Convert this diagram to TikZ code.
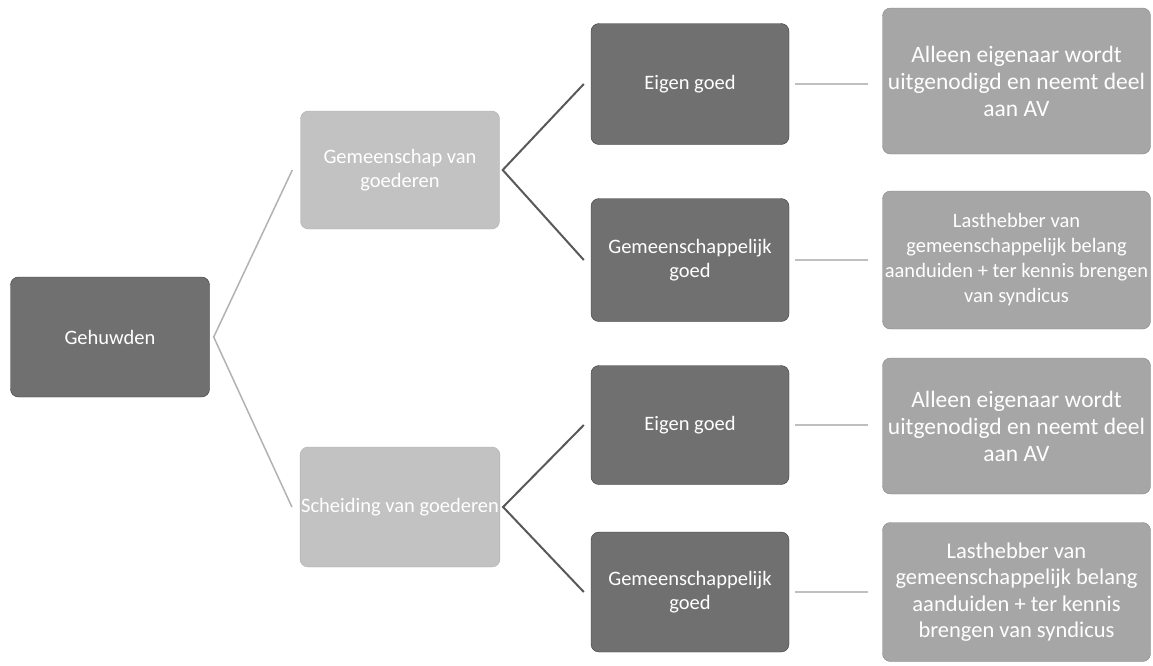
\documentclass[tikz,border=0pt]{standalone}
\usepackage{fontspec}
\setsansfont{Carlito}

\begin{document}
\begin{tikzpicture}[
    x=1pt, y=-1pt,
    every node/.style={font=\sffamily\fontsize{20.5}{24.5}\selectfont, text=white},
    box/.style={rounded corners=8pt, align=center, inner sep=1pt},
    darkbox/.style={box, fill=black!56, draw=black!78, minimum width=198pt, minimum height=121pt},
    lightbox/.style={box, fill=black!24, draw=black!32, minimum width=199pt, minimum height=118pt},
    resultbox/.style={box, fill=black!35, draw=black!48, minimum width=268pt, minimum height=140pt},
    linkA/.style={black!30, line width=1.5pt},
    linkB/.style={black!65, line width=2pt},
    linkC/.style={black!25, line width=1.5pt}
]

% Page size
\useasboundingbox (0,0) rectangle (1153,665);

% === Root ===
\node[darkbox, minimum width=199pt, minimum height=120pt] (geh) at (110,337) {Gehuwden};

% === Regime ===
\node[lightbox] (gem) at (400,170) {Gemeenschap van\\goederen};
\node[lightbox, minimum height=120pt] (sch) at (400,507) {Scheiding van goederen};

% === Kind of good ===
\node[darkbox] (eg1) at (690,84) {Eigen goed};
\node[darkbox, minimum height=123pt] (gg1) at (690,260) {Gemeenschappelijk\\goed};
\node[darkbox, minimum height=119pt] (eg2) at (690,425) {Eigen goed};
\node[darkbox, minimum height=120pt] (gg2) at (690,592) {Gemeenschappelijk\\goed};

% === Consequence ===
\node[resultbox, minimum height=146pt, font=\sffamily\fontsize{23.5}{27}\selectfont]
    (al1) at (1016.5,81) {Alleen eigenaar wordt\\uitgenodigd en neemt deel\\aan AV};
\node[resultbox, minimum height=138pt, font=\sffamily\fontsize{20.5}{25}\selectfont]
    (la1) at (1016.5,260) {Lasthebber van\\gemeenschappelijk belang\\aanduiden + ter kennis brengen\\van syndicus};
\node[resultbox, minimum height=136pt, font=\sffamily\fontsize{23.5}{27}\selectfont]
    (al2) at (1016.5,426) {Alleen eigenaar wordt\\uitgenodigd en neemt deel\\aan AV};
\node[resultbox, minimum height=139pt, font=\sffamily\fontsize{22.5}{26.5}\selectfont]
    (la2) at (1016.5,592) {Lasthebber van\\gemeenschappelijk belang\\aanduiden + ter kennis\\brengen van syndicus};

% === Links ===
\draw[linkA] ([xshift=-8pt]gem.west) -- ([xshift=4pt]geh.east) -- ([xshift=-8pt]sch.west);
\draw[linkB] ([xshift=-7pt]eg1.west) -- ([xshift=3pt]gem.east) -- ([xshift=-7pt]gg1.west);
\draw[linkB] ([xshift=-7pt]eg2.west) -- ([xshift=3pt]sch.east) -- ([xshift=-7pt]gg2.west);

\foreach \a/\b in {eg1/al1, gg1/la1, eg2/al2, gg2/la2}
    \draw[linkC] ([xshift=6pt]\a.east) -- ([xshift=-14pt]\b.west |- \a.east);

\end{tikzpicture}
\end{document}
